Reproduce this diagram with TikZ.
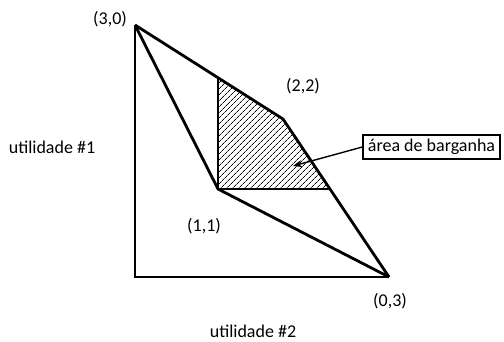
\documentclass[tikz,border=0pt]{standalone}
\usepackage{fontspec}
\setmainfont{Carlito}
\usetikzlibrary{patterns.meta,arrows.meta}
\begin{document}
\begin{tikzpicture}[x=1pt,y=-1pt,
  lbl/.style={font=\fontsize{18}{20}\selectfont, inner sep=0pt},
  edge/.style={line width=2.8pt, line join=miter},
  callout/.style={draw, line width=1.4pt, font=\fontsize{18}{20}\selectfont, inner xsep=4pt, inner ysep=2pt, minimum height=24pt, minimum width=137pt}]
\useasboundingbox (0,0) rectangle (504,341);
\coordinate (O) at (135,277);
\coordinate (A) at (135,25);
\coordinate (B) at (389,277);
\coordinate (M) at (218,189);
\coordinate (P) at (283,119);
\coordinate (H1) at (218,78);
\coordinate (H2) at (330,189);
% hatched bargaining area
\fill[pattern={Lines[angle=45,distance=4pt,line width=0.8pt]}] (H1) -- (P) -- (H2) -- (M) -- cycle;
% outer triangle
\draw[edge] (A) -- (O) -- (B);
\draw[edge] (A) -- (P) -- (B);
\draw[edge] (A) -- (M) -- (B);
\draw[edge] (H1) -- (M) -- (H2);
% labels
\node[lbl] (l30) at (110,19) {(3,0)};
\node[lbl] (l22) at (303,86) {(2,2)};
\node[lbl] (l11) at (204,226) {(1,1)};
\node[lbl] (l03) at (390,301) {(0,3)};
\node[lbl] (u1) at (52,147) {utilidade \#1};
\node[lbl] (u2) at (253,331) {utilidade \#2};
\node[callout] (box) at (431.5,147) {área de barganha};
\coordinate (tip) at (293,166);
\draw[line width=1.4pt, -{Stealth[length=9pt,width=7pt]}] (box.west) -- (tip);
\end{tikzpicture}
\end{document}
